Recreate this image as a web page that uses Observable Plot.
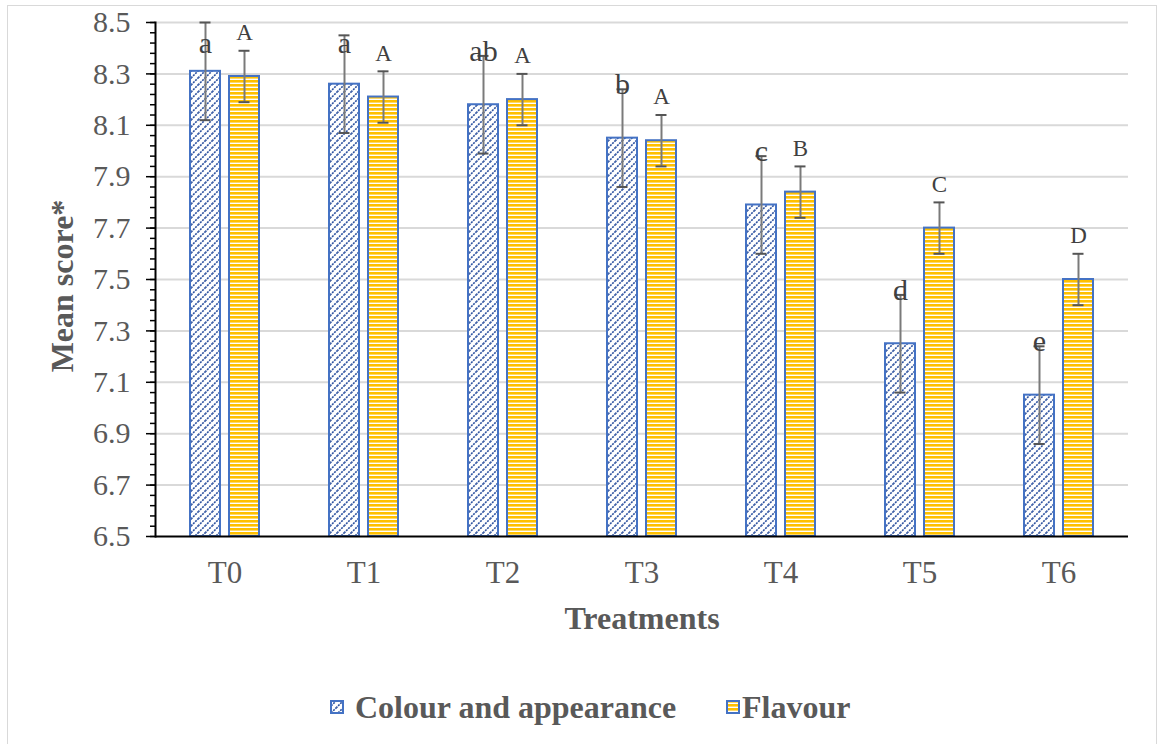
<!DOCTYPE html>
<html>
<head>
<meta charset="utf-8">
<script src="https://cdn.jsdelivr.net/npm/d3@7"></script>
<script src="https://cdn.jsdelivr.net/npm/@observablehq/plot@0.6"></script>
<style>
  body { margin: 0; background: #fff; }
  #wrap { position: relative; width: 1159px; height: 744px; overflow: hidden;
          font-family: "Liberation Serif", "Times New Roman", serif; color: #595959; }
  #chart { position: absolute; left: 0; top: 0; }
  #border { position: absolute; left: 7px; top: 5px; width: 1150px; height: 745px;
            border: 1px solid #d9d9d9; box-sizing: border-box; pointer-events: none; }
  .title { position: absolute; font-weight: bold; font-size: 32px; white-space: nowrap; line-height: 1; }
  #ytitle { left: 62px; top: 286px; transform: translate(-50%, -50%) rotate(-90deg); }
  #xtitle { left: 642px; top: 618px; transform: translate(-50%, -50%); }
  .swatch { position: absolute; top: 707px; transform: translateY(-50%); display: block; }
  .ltext { position: absolute; top: 707px; transform: translateY(-50%); font-weight: bold;
           font-size: 32px; line-height: 1; white-space: nowrap; }
</style>
</head>
<body>
<div id="wrap">
  <svg width="0" height="0" style="position:absolute">
    <defs>
      <pattern id="hatch" patternUnits="userSpaceOnUse" width="7" height="7">
        <rect width="7" height="7" fill="#fff"></rect>
        <path d="M-1,8 L8,-1 M-1,1 L1,-1 M6,8 L8,6" stroke="#2a4f9e" stroke-width="1.6" stroke-dasharray="2 1"></path>
      </pattern>
      <pattern id="stripes" patternUnits="userSpaceOnUse" width="8" height="4">
        <rect width="8" height="4" fill="#fff"></rect>
        <rect width="8" height="2.6" fill="#ffc000"></rect>
      </pattern>
    </defs>
  </svg>
  <div id="chart"></div>
  <div id="border"></div>
  <div class="title" id="ytitle">Mean score*</div>
  <div class="title" id="xtitle">Treatments</div>
  <svg class="swatch" style="left:330px" width="14" height="14"><rect x="1" y="1" width="12" height="12" fill="url(#hatch)" stroke="#4472c4" stroke-width="2"></rect></svg>
  <div class="ltext" style="left:355px">Colour and appearance</div>
  <svg class="swatch" style="left:726px" width="14" height="14"><rect x="1" y="1" width="12" height="12" fill="url(#stripes)" stroke="#4472c4" stroke-width="2"></rect></svg>
  <div class="ltext" style="left:742px">Flavour</div>
</div>
<script>
// Sensory scores per treatment (mean ± error) with significance letters
const treatments = ["T0", "T1", "T2", "T3", "T4", "T5", "T6"];
const seriesNames = ["Colour and appearance", "Flavour"];

const colourMean = [8.31, 8.26, 8.18, 8.05, 7.79, 7.25, 7.05];
const colourErr = [0.19, 0.19, 0.19, 0.19, 0.19, 0.19, 0.19];
const colourLetters = ["a", "a", "ab", "b", "c", "d", "e"];

const flavourMean = [8.29, 8.21, 8.20, 8.04, 7.84, 7.70, 7.50];
const flavourErr = [0.10, 0.10, 0.10, 0.10, 0.10, 0.10, 0.10];
const flavourLetters = ["A", "A", "A", "A", "B", "C", "D"];

const yTicks = [6.5, 6.7, 6.9, 7.1, 7.3, 7.5, 7.7, 7.9, 8.1, 8.3, 8.5];
const yMin = 6.5, yMax = 8.5;

const rows = [];
treatments.forEach((t, i) => {
  rows.push({treatment: t, series: seriesNames[0], mean: colourMean[i], err: colourErr[i], letter: colourLetters[i]});
  rows.push({treatment: t, series: seriesNames[1], mean: flavourMean[i], err: flavourErr[i], letter: flavourLetters[i]});
});
const colourRows = rows.filter(d => d.series === seriesNames[0]);
const flavourRows = rows.filter(d => d.series === seriesNames[1]);

// minor ticks every 0.04 along the value axis
const minorTicks = d3.range(0, 51).map(i => +(yMin + i * 0.04).toFixed(2));

// letters sit just above the error bar, kept below the top of the axis
const letterY = d => Math.min(d.mean + d.err, 8.4);

const common = {fx: "treatment", x: "series"};

const chart = Plot.plot({
  width: 1159,
  height: 660,
  marginLeft: 152,
  marginRight: 29,
  marginTop: 22,
  marginBottom: 124,
  style: {fontFamily: "'Liberation Serif', 'Times New Roman', serif", background: "transparent", overflow: "visible"},
  fx: {domain: treatments, padding: 0, label: null},
  x: {domain: seriesNames, paddingInner: 0.225, paddingOuter: 0.86, axis: null},
  y: {domain: [yMin, yMax]},
  marks: [
    Plot.ruleY(yTicks.slice(1), {stroke: "#d9d9d9", strokeWidth: 2}),
    Plot.barY(colourRows, {...common, y1: yMin, y2: "mean", fill: "url(#hatch)", stroke: "#4472c4", strokeWidth: 2}),
    Plot.barY(flavourRows, {...common, y1: yMin, y2: "mean", fill: "url(#stripes)", stroke: "#4472c4", strokeWidth: 2}),
    Plot.ruleX(rows, {...common, y1: d => d.mean - d.err, y2: d => d.mean + d.err, stroke: "#7a7a7a", strokeWidth: 2}),
    Plot.tickY(rows, {...common, y: d => d.mean - d.err, insetLeft: 9.5, insetRight: 9.5, stroke: "#555", strokeWidth: 2}),
    Plot.tickY(rows, {...common, y: d => d.mean + d.err, insetLeft: 9.5, insetRight: 9.5, stroke: "#555", strokeWidth: 2}),
    Plot.text(colourRows, {...common, y: letterY, text: "letter", dy: -5, fontSize: 30, fill: "#404040"}),
    Plot.text(flavourRows, {...common, y: letterY, text: "letter", dy: -18, fontSize: 23, fill: "#404040"}),
    Plot.ruleY([yMin], {stroke: "#000", strokeWidth: 2}),
    Plot.axisY(minorTicks, {tickSize: 5, text: null, stroke: "#000", strokeWidth: 1.5, label: null}),
    Plot.axisY(yTicks, {tickSize: 9, text: null, stroke: "#000", strokeWidth: 1.5, label: null}),
    Plot.axisY(yTicks, {tickSize: 0, tickPadding: 25, tickFormat: d3.format(".1f"), fontSize: 30, color: "#595959", label: null}),
    Plot.axisFx({anchor: "bottom", tickSize: 0, tickPadding: 24, fontSize: 31, color: "#595959", label: null}),
    Plot.frame({anchor: "left", facetAnchor: "left", stroke: "#000", strokeWidth: 2})
  ]
});

document.getElementById("chart").appendChild(chart);
</script>
</body>
</html>
